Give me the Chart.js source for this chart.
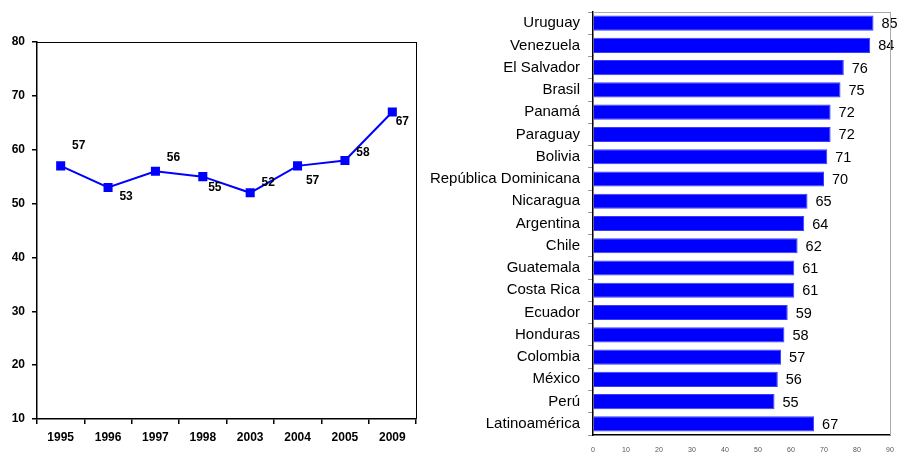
<!DOCTYPE html>
<html>
<head>
<meta charset="utf-8">
<script src="https://cdn.jsdelivr.net/npm/chart.js@4"></script>
<style>
  html, body { margin: 0; padding: 0; background: #fff; }
  #wrap { position: relative; width: 899px; height: 453px; overflow: hidden; }
  #left { position: absolute; left: 0; top: 0; }
  #right { position: absolute; left: 420px; top: 0; }
</style>
</head>
<body>
<div id="wrap">
  <canvas id="left" width="430" height="453"></canvas>
  <canvas id="right" width="479" height="453"></canvas>
</div>
<script>
// left: trend by year
const years = ['1995', '1996', '1997', '1998', '2003', '2004', '2005', '2009'];
const yearValues = [57, 53, 56, 55, 52, 57, 58, 67];
const yearTicks = [10, 20, 30, 40, 50, 60, 70, 80];

// right: ranking by country
const countries = ['Uruguay', 'Venezuela', 'El Salvador', 'Brasil', 'Panamá', 'Paraguay', 'Bolivia',
  'República Dominicana', 'Nicaragua', 'Argentina', 'Chile', 'Guatemala', 'Costa Rica', 'Ecuador',
  'Honduras', 'Colombia', 'México', 'Perú', 'Latinoamérica'];
const countryValues = [85, 84, 76, 75, 72, 72, 71, 70, 65, 64, 62, 61, 61, 59, 58, 57, 56, 55, 67];
const countryTicks = [0, 10, 20, 30, 40, 50, 60, 70, 80, 90];

// where each point label sits relative to its marker (px)
const labelShift = [[18, -20], [18, 9], [18, -14], [12, 11], [18, -10], [15, 15], [18, -8], [10, 10]];

const BLUE = '#0000ff';
const FONT = 'Arial, "Liberation Sans", sans-serif';

const boxPlugin = (color, sides) => ({
  id: 'box',
  afterDraw(chart) {
    const { ctx, chartArea: a } = chart;
    ctx.save();
    ctx.strokeStyle = color;
    ctx.lineWidth = 1;
    ctx.beginPath();
    if (sides.includes('t')) { ctx.moveTo(a.left, a.top + 0.5); ctx.lineTo(a.right, a.top + 0.5); }
    if (sides.includes('r')) { ctx.moveTo(a.right + 0.5, a.top); ctx.lineTo(a.right + 0.5, a.bottom); }
    ctx.stroke();
    ctx.restore();
  }
});

const pointLabels = {
  id: 'pointLabels',
  afterDatasetsDraw(chart) {
    const { ctx } = chart;
    const meta = chart.getDatasetMeta(0);
    ctx.save();
    ctx.font = 'bold 12px ' + FONT;
    ctx.fillStyle = '#000';
    ctx.textAlign = 'center';
    ctx.textBaseline = 'middle';
    meta.data.forEach((pt, i) => {
      const [dx, dy] = labelShift[i];
      ctx.fillText(String(yearValues[i]), pt.x + dx, pt.y + dy);
    });
    ctx.restore();
  }
};

const barLabels = {
  id: 'barLabels',
  afterDatasetsDraw(chart) {
    const { ctx } = chart;
    const meta = chart.getDatasetMeta(0);
    ctx.save();
    ctx.font = '14.5px ' + FONT;
    ctx.fillStyle = '#000';
    ctx.textAlign = 'left';
    ctx.textBaseline = 'middle';
    meta.data.forEach((bar, i) => {
      ctx.fillText(String(countryValues[i]), bar.x + 8, bar.y + 1);
    });
    ctx.restore();
  }
};

new Chart(document.getElementById('left'), {
  type: 'line',
  data: {
    labels: years,
    datasets: [{
      data: yearValues,
      borderColor: BLUE,
      borderWidth: 2,
      backgroundColor: BLUE,
      pointStyle: 'rect',
      pointRadius: 6.4,
      pointBorderWidth: 0,
      tension: 0
    }]
  },
  options: {
    responsive: false,
    animation: false,
    layout: { padding: { top: 42, right: 14, left: 0, bottom: 0 } },
    plugins: { legend: { display: false }, tooltip: { enabled: false } },
    scales: {
      x: {
        offset: true,
        grid: { offset: true, drawOnChartArea: false, drawTicks: true, tickLength: 5, color: '#000', lineWidth: 1.5 },
        border: { color: '#000', width: 1.5 },
        ticks: { color: '#000', font: { family: FONT, size: 12, weight: 'bold' }, padding: 6, maxRotation: 0 },
        afterFit: s => { s.height = 34; s.paddingLeft = 0; s.paddingRight = 0; }
      },
      y: {
        min: 10,
        max: 80,
        afterBuildTicks: s => { s.ticks = yearTicks.map(v => ({ value: v })); },
        grid: { drawOnChartArea: false, drawTicks: true, tickLength: 5, color: '#000', lineWidth: 1.5 },
        border: { color: '#000', width: 1.5 },
        ticks: { color: '#000', font: { family: FONT, size: 12, weight: 'bold' }, padding: 7 },
        afterFit: s => { s.width = 37; s.paddingTop = 0; s.paddingBottom = 0; }
      }
    }
  },
  plugins: [pointLabels, boxPlugin('#000', 'tr')]
});

new Chart(document.getElementById('right'), {
  type: 'bar',
  data: {
    labels: countries,
    datasets: [{
      data: countryValues,
      backgroundColor: BLUE,
      borderColor: '#3b3bff',
      borderWidth: 1,
      barPercentage: 0.68,
      categoryPercentage: 1
    }]
  },
  options: {
    indexAxis: 'y',
    responsive: false,
    animation: false,
    layout: { padding: { top: 12, right: 9, left: 0, bottom: 0 } },
    plugins: { legend: { display: false }, tooltip: { enabled: false } },
    scales: {
      x: {
        min: 0,
        max: 90,
        afterBuildTicks: s => { s.ticks = countryTicks.map(v => ({ value: v })); },
        grid: { drawOnChartArea: false, drawTicks: false },
        border: { color: '#000', width: 1.5 },
        ticks: { color: '#555', font: { family: FONT, size: 7 }, padding: 11 },
        afterFit: s => { s.height = 18; s.paddingLeft = 0; s.paddingRight = 0; }
      },
      y: {
        grid: { offset: true, drawOnChartArea: false, drawTicks: true, tickLength: 5, color: '#999' },
        border: { color: '#000', width: 1.5 },
        ticks: { color: '#000', font: { family: FONT, size: 15 }, padding: 8, autoSkip: false },
        afterFit: s => { s.width = 173; s.paddingTop = 0; s.paddingBottom = 0; }
      }
    }
  },
  plugins: [barLabels, boxPlugin('#aaa', 'tr')]
});
</script>
</body>
</html>
